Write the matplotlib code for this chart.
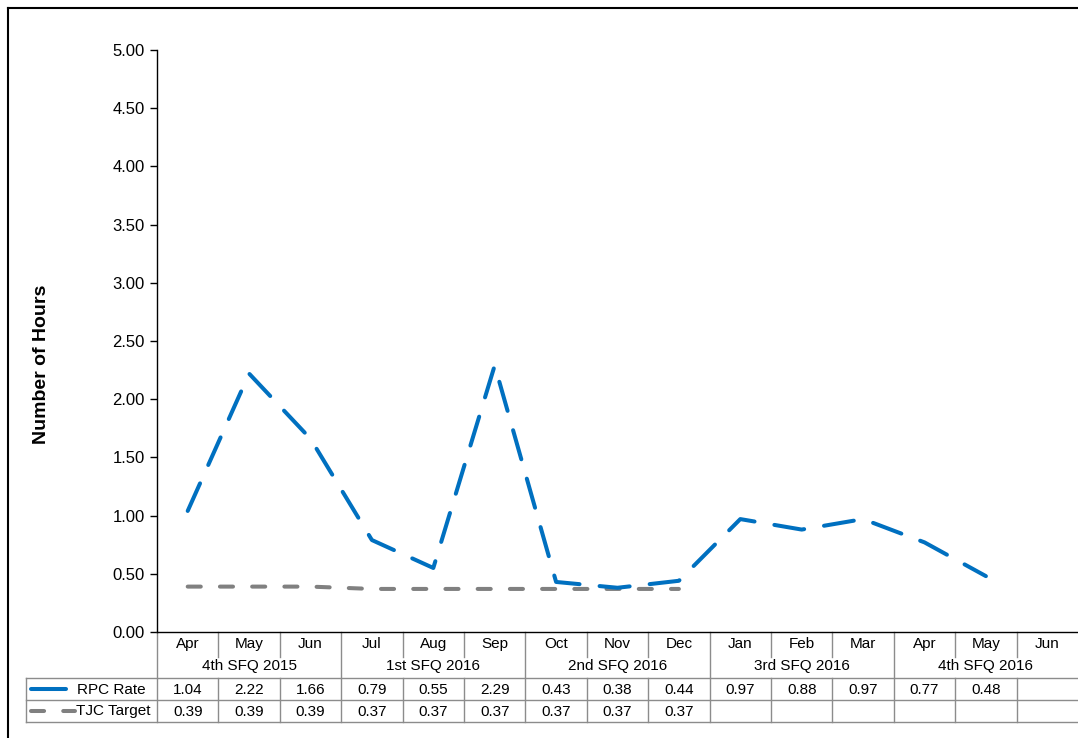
import matplotlib
matplotlib.use("Agg")
import matplotlib.pyplot as plt
import matplotlib.transforms as mtransforms
import numpy as np

plt.rcParams['font.family'] = ['Liberation Sans', 'DejaVu Sans']

months = ["Apr", "May", "Jun", "Jul", "Aug", "Sep", "Oct", "Nov", "Dec",
          "Jan", "Feb", "Mar", "Apr", "May", "Jun"]
quarters = ["4th SFQ 2015", "1st SFQ 2016", "2nd SFQ 2016", "3rd SFQ 2016", "4th SFQ 2016"]
rpc_rate = [1.04, 2.22, 1.66, 0.79, 0.55, 2.29, 0.43, 0.38, 0.44,
            0.97, 0.88, 0.97, 0.77, 0.48, None]
tjc_target = [0.39, 0.39, 0.39, 0.37, 0.37, 0.37, 0.37, 0.37, 0.37,
              None, None, None, None, None, None]
series_names = ["RPC Rate", "TJC Target"]
yticks = [0.0, 0.5, 1.0, 1.5, 2.0, 2.5, 3.0, 3.5, 4.0, 4.5, 5.0]

W, H = 1078, 738
BLUE = "#0070C0"
GREY = "#808080"
GRID = "#8c8c8c"
TABLE_FS = 11
TICK_FS = 12

fig = plt.figure(figsize=(W / 100, H / 100), dpi=100)


def fx(px):
    return px / W


def fy(py):
    return 1 - py / H


ax_left, ax_right, ax_top, ax_bottom = 157, 1078, 50, 632
ax = fig.add_axes([fx(ax_left), fy(ax_bottom), fx(ax_right - ax_left),
                   (ax_bottom - ax_top) / H])

x = np.arange(len(months))
rpc = np.array([np.nan if v is None else v for v in rpc_rate])
tjc = np.array([np.nan if v is None else v for v in tjc_target])

lw = 2.9
ax.plot(x, tjc, color=GREY, lw=lw, dashes=(3.25, 4.75), dash_capstyle='round',
        solid_capstyle='round', zorder=2)
ax.plot(x, rpc, color=BLUE, lw=lw, dashes=(7.5, 5.0), dash_capstyle='round',
        solid_capstyle='round', zorder=3)

ax.set_xlim(-0.5, len(months) - 0.5)
ax.set_ylim(0, 5)
ax.set_yticks(yticks)
ax.set_yticklabels([f"{v:.2f}" for v in yticks], fontsize=TICK_FS)
ax.set_xticks([])
ax.tick_params(axis='y', direction='out', length=5, width=1, pad=4, color='black')
for s in ("top", "right"):
    ax.spines[s].set_visible(False)
ax.spines['left'].set_linewidth(1)
ax.spines['bottom'].set_linewidth(1)
ax.spines['bottom'].set_color('black')

fig.text(fx(42), fy(364), "Number of Hours", rotation=90, ha='center', va='center',
         fontsize=14, fontweight='bold')

# data table under the axis
bt = mtransforms.blended_transform_factory(ax.transData, fig.transFigure)
ft = fig.transFigure

y_axis = ax_bottom
y_month = 644
y_month_sep = 657
y_quarter = 666
y_row1_top = 678
y_row2_top = 700
y_row_bot = 722
legend_left = 26

line_kw = dict(color=GRID, lw=1, clip_on=False)

# month labels and separators
for i, m in enumerate(months):
    ax.text(i, fy(y_month), m, transform=bt, ha='center', va='center', fontsize=TABLE_FS)
for i in range(1, len(months)):
    if i % 3 == 0:
        ax.plot([i - 0.5, i - 0.5], [fy(y_axis), fy(y_row_bot)], transform=bt, **line_kw)
    else:
        ax.plot([i - 0.5, i - 0.5], [fy(y_axis), fy(y_month_sep)], transform=bt, **line_kw)
        ax.plot([i - 0.5, i - 0.5], [fy(y_row1_top), fy(y_row_bot)], transform=bt, **line_kw)
ax.plot([-0.5, -0.5], [fy(y_axis), fy(y_row_bot)], transform=bt, **line_kw)

# quarter labels
for q, name in enumerate(quarters):
    ax.text(q * 3 + 1, fy(y_quarter), name, transform=bt, ha='center', va='center',
            fontsize=TABLE_FS)

# horizontal rules of the value rows
for yy in (y_row1_top, y_row2_top, y_row_bot):
    fig.add_artist(plt.Line2D([fx(legend_left), 1], [fy(yy), fy(yy)], transform=ft,
                              color=GRID, lw=1))
fig.add_artist(plt.Line2D([fx(legend_left), fx(legend_left)],
                          [fy(y_row1_top), fy(y_row_bot)], transform=ft, color=GRID, lw=1))

# value cells
yc1 = (y_row1_top + y_row2_top) / 2
yc2 = (y_row2_top + y_row_bot) / 2
for vals, yc in ((rpc_rate, yc1), (tjc_target, yc2)):
    for i, v in enumerate(vals):
        if v is not None:
            ax.text(i, fy(yc + 0.5), f"{v:.2f}", transform=bt, ha='center', va='center',
                    fontsize=TABLE_FS)

# legend keys inside the table
fig.add_artist(plt.Line2D([fx(31), fx(66)], [fy(yc1), fy(yc1)], transform=ft,
                          color=BLUE, lw=lw, solid_capstyle='round'))
fig.add_artist(plt.Line2D([fx(31), fx(75)], [fy(yc2), fy(yc2)], transform=ft,
                          color=GREY, lw=lw, dashes=(3.25, 4.75), dash_capstyle='round'))
fig.text(fx(77), fy(yc1 + 0.5), series_names[0], ha='left', va='center', fontsize=TABLE_FS)
fig.text(fx(76), fy(yc2 + 0.5), series_names[1], ha='left', va='center', fontsize=TABLE_FS)

# outer frame (left and top edges)
fig.add_artist(plt.Line2D([fx(7.5), fx(7.5)], [fy(7.5), 0], transform=ft, color='black', lw=1.5))
fig.add_artist(plt.Line2D([fx(7.5), 1], [fy(7.5), fy(7.5)], transform=ft, color='black', lw=1.5))

fig.savefig("out.png", dpi=100)
